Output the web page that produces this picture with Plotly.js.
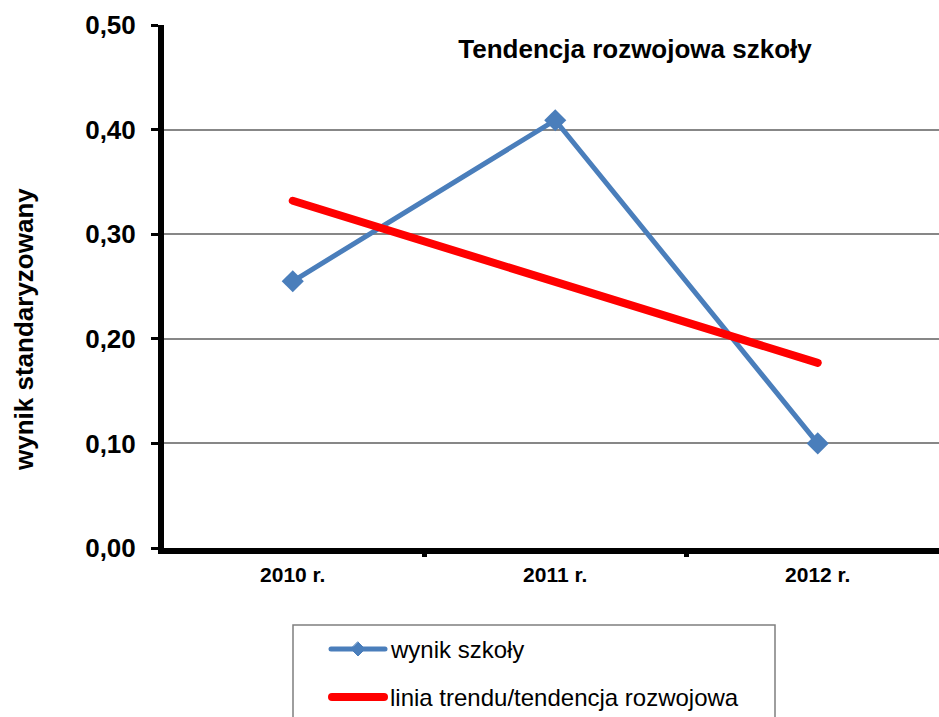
<!DOCTYPE html>
<html>
<head>
<meta charset="utf-8">
<script src="https://cdn.plot.ly/plotly-3.0.1.min.js"></script>
<style>
html, body { margin: 0; padding: 0; background: #ffffff; }
#chart { width: 939px; height: 717px; }
.scatterlayer .js-line { stroke-linecap: round !important; }
.shapelayer path { stroke-linecap: round !important; }
</style>
</head>
<body>
<div id="chart"></div>
<script>
// ---- data ----
const categories = ["2010 r.", "2011 r.", "2012 r."];
const schoolScores = [0.255, 0.409, 0.100];
const trendCategories = ["2010 r.", "2012 r."];
const trendValues = [0.332, 0.177];
const seriesNames = ["wynik szkoły", "linia trendu/tendencja rozwojowa"];
const chartTitle = "Tendencja rozwojowa szkoły";
const yTitle = "wynik standaryzowany";

const FONT = "'Liberation Sans', Arial, Helvetica, sans-serif";
const BLUE = "#4A7EBB";
const RED = "#FF0000";

// pixel helpers for legend placement (plot area: x 164..939, y 25..548)
const W = 939, H = 717, ML = 164, MT = 25, MB = 169;
const PW = W - ML, PH = H - MT - MB;
const px = x => (x - ML) / PW;
const py = y => (H - MB - y) / PH;

const traces = [
  {
    x: categories, y: schoolScores, type: "scatter", mode: "lines+markers",
    name: seriesNames[0],
    line: { color: BLUE, width: 5 },
    marker: { symbol: "diamond", size: 17, color: BLUE },
    showlegend: false, hoverinfo: "x+y"
  },
  {
    x: trendCategories, y: trendValues, type: "scatter", mode: "lines",
    name: seriesNames[1],
    line: { color: RED, width: 8 },
    showlegend: false, hoverinfo: "x+y"
  }
];

const legY1 = py(649), legY2 = py(697);
const layout = {
  width: W, height: H,
  margin: { l: ML, r: 0, t: MT, b: MB, pad: 0 },
  paper_bgcolor: "#ffffff", plot_bgcolor: "#ffffff",
  separators: ", ",
  font: { family: FONT, color: "#000000" },
  title: {
    text: chartTitle,
    font: { family: FONT, size: 26, weight: "bold", color: "#000000" },
    xref: "paper", x: px(635), xanchor: "center",
    yref: "paper", y: py(49), yanchor: "middle"
  },
  xaxis: {
    type: "category",
    range: [-0.4905, 2.462],
    showline: true, linewidth: 6, linecolor: "#000000",
    ticks: "outside", tickson: "boundaries", ticklen: 3, tickwidth: 5, tickcolor: "#000000",
    ticklabelstandoff: 3,
    showgrid: false, zeroline: false,
    tickfont: { family: FONT, size: 21, weight: "bold", color: "#000000" },
    fixedrange: true
  },
  yaxis: {
    range: [0, 0.5], tick0: 0, dtick: 0.1, tickformat: ".2f",
    showline: true, linewidth: 6, linecolor: "#000000",
    ticks: "outside", ticklen: 7, tickwidth: 3, tickcolor: "#000000",
    ticklabelstandoff: 10,
    showgrid: true, gridcolor: "#878787", gridwidth: 2,
    zeroline: false,
    tickfont: { family: FONT, size: 26, weight: "bold", color: "#000000" },
    fixedrange: true
  },
  shapes: [
    { type: "rect", xref: "paper", yref: "paper",
      x0: px(293), x1: px(775), y0: py(740), y1: py(625),
      line: { color: "#7F7F7F", width: 1.5 }, fillcolor: "rgba(0,0,0,0)" },
    { type: "line", xref: "paper", yref: "paper",
      x0: px(331), x1: px(385), y0: legY1, y1: legY1,
      line: { color: BLUE, width: 5 } },
    { type: "path", xref: "paper", yref: "paper",
      xsizemode: "pixel", ysizemode: "pixel",
      xanchor: px(358), yanchor: legY1,
      path: "M0,7 L7,0 L0,-7 L-7,0 Z",
      fillcolor: BLUE, line: { color: BLUE, width: 1 } },
    { type: "line", xref: "paper", yref: "paper",
      x0: px(332), x1: px(384), y0: legY2, y1: legY2,
      line: { color: RED, width: 8 } }
  ],
  annotations: [
    { text: yTitle, textangle: -90, showarrow: false,
      xref: "paper", yref: "paper", x: px(24), y: py(330),
      xanchor: "center", yanchor: "middle",
      font: { family: FONT, size: 26, weight: "bold", color: "#000000" } },
    { text: seriesNames[0], showarrow: false,
      xref: "paper", yref: "paper", x: px(388), y: legY1,
      xanchor: "left", yanchor: "middle",
      font: { family: FONT, size: 24, color: "#000000" } },
    { text: seriesNames[1], showarrow: false,
      xref: "paper", yref: "paper", x: px(388), y: legY2,
      xanchor: "left", yanchor: "middle",
      font: { family: FONT, size: 24, color: "#000000" } }
  ]
};

Plotly.newPlot("chart", traces, layout, { displayModeBar: false, staticPlot: true });
</script>
</body>
</html>
